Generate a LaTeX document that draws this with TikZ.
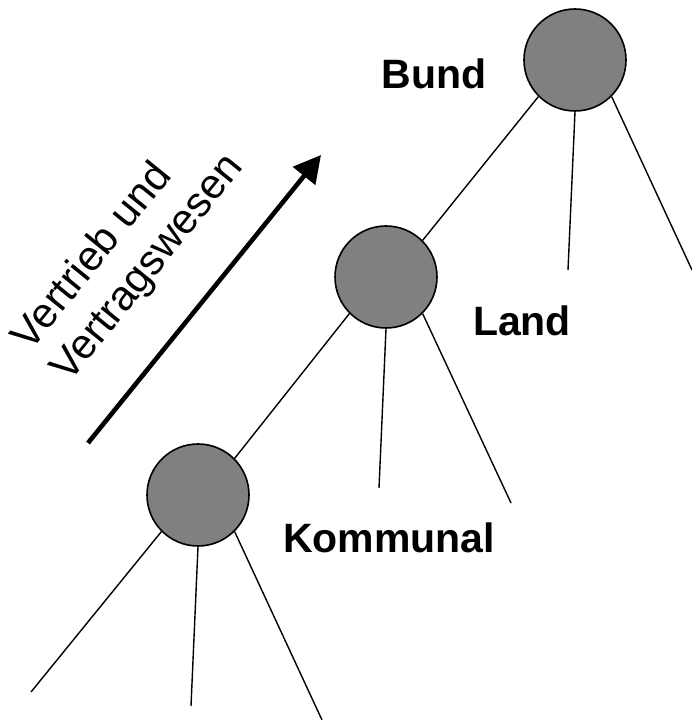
\documentclass[tikz,border=0pt]{standalone}
\usepackage{fontspec}
\setmainfont{Liberation Sans}
\usetikzlibrary{arrows.meta}
\begin{document}
\begin{tikzpicture}[
    x=1pt, y=1pt,
    knoten/.style={circle,draw,line width=1.6pt,fill=black!50,minimum size=102pt,inner sep=0pt},
    ast/.style={line width=1.4pt},
    ebene/.style={font=\bfseries\fontsize{41}{49}\selectfont,inner sep=0pt}]
    \useasboundingbox (0,0) rectangle (692,720);
    % Ebenen
    \node [knoten] (bund) at (575,660) {};
    \node [knoten] (land) at (386,443) {};
    \node [knoten] (kommunal) at (198,225) {};
    \node [ebene] (lbund) at (434,646) {Bund};
    \node [ebene] (lland) at (522,399) {Land};
    \node [ebene] (lkommunal) at (389,182) {Kommunal};
    % freie Enden
    \coordinate (b1) at (568,450);
    \coordinate (b2) at (692,450);
    \coordinate (l1) at (379,232);
    \coordinate (l2) at (511,217);
    \coordinate (k1) at (31,28);
    \coordinate (k2) at (191,14);
    \coordinate (k3) at (322,0);
    \draw [ast] (bund.225) -- (land.45);
    \draw [ast] (land.225) -- (kommunal.45);
    \draw [ast] (bund.south) -- (b1);
    \draw [ast] (bund.-45) -- (b2);
    \draw [ast] (land.south) -- (l1);
    \draw [ast] (land.-45) -- (l2);
    \draw [ast] (kommunal.225) -- (k1);
    \draw [ast] (kommunal.south) -- (k2);
    \draw [ast] (kommunal.-45) -- (k3);
    % Richtung
    \coordinate (pfeilstart) at (88,277);
    \coordinate (pfeilende) at (321,565);
    \draw [line width=4.6pt,-{Triangle[length=27pt,width=28pt]}] (pfeilstart) -- (pfeilende);
    \node [font=\fontsize{42}{50}\selectfont,align=left,rotate=51,inner sep=0pt] (richtung) at (129,467) {Vertrieb und\\Vertragswesen};
\end{tikzpicture}
\end{document}
